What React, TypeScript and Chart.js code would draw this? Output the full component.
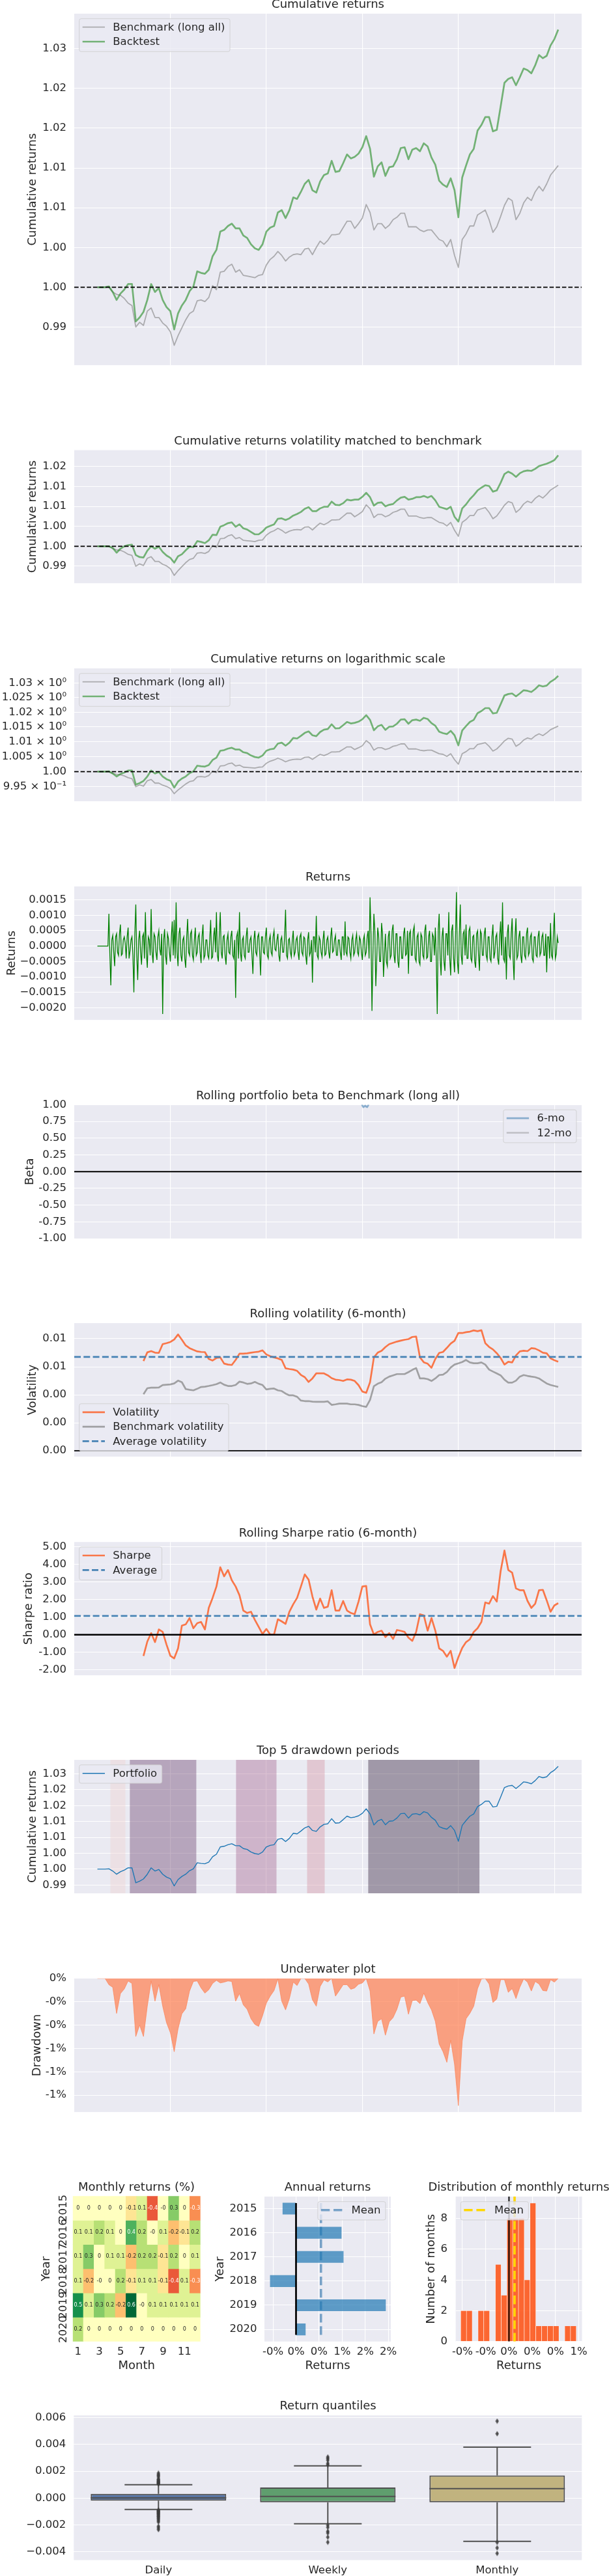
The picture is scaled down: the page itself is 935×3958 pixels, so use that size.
import React, { useEffect, useRef } from 'react';
import { Chart, registerables } from 'chart.js';

Chart.register(...registerables);

// ======================= DATA =======================
const yearTicks = [2016, 2017, 2018, 2019, 2020];

const cumDates = [
  2015.24, 2015.28, 2015.32, 2015.36, 2015.40, 2015.44, 2015.48, 2015.52, 2015.56, 2015.60,
  2015.64, 2015.68, 2015.72, 2015.76, 2015.80, 2015.84, 2015.88, 2015.92, 2015.96, 2016.00,
  2016.04, 2016.08, 2016.12, 2016.16, 2016.20, 2016.24, 2016.28, 2016.32, 2016.36, 2016.40,
  2016.44, 2016.48, 2016.52, 2016.56, 2016.60, 2016.64, 2016.68, 2016.72, 2016.76, 2016.80,
  2016.84, 2016.88, 2016.92, 2016.96, 2017.00, 2017.04, 2017.08, 2017.12, 2017.16, 2017.20,
  2017.24, 2017.28, 2017.32, 2017.36, 2017.40, 2017.44, 2017.48, 2017.52, 2017.56, 2017.60,
  2017.64, 2017.68, 2017.72, 2017.76, 2017.80, 2017.84, 2017.88, 2017.92, 2017.96, 2018.00,
  2018.04, 2018.08, 2018.12, 2018.16, 2018.20, 2018.24, 2018.28, 2018.32, 2018.36, 2018.40,
  2018.44, 2018.48, 2018.52, 2018.56, 2018.60, 2018.64, 2018.68, 2018.72, 2018.76, 2018.80,
  2018.84, 2018.88, 2018.92, 2018.96, 2019.00, 2019.04, 2019.08, 2019.12, 2019.16, 2019.20,
  2019.24, 2019.28, 2019.32, 2019.36, 2019.40, 2019.44, 2019.48, 2019.52, 2019.56, 2019.60,
  2019.64, 2019.68, 2019.72, 2019.76, 2019.80, 2019.84, 2019.88, 2019.92, 2019.96, 2020.00,
  2020.04,
];

const backtestCum = [
  1.0000, 1.0000, 1.0000, 1.0001, 0.9994, 0.9984, 0.9992, 0.9997, 1.0004, 1.0004,
  0.9957, 0.9962, 0.9969, 0.9984, 1.0004, 0.9994, 0.9999, 0.9984, 0.9975, 0.9970,
  0.9947, 0.9967, 0.9977, 0.9984, 0.9995, 1.0001, 1.0020, 1.0018, 1.0017, 1.0022,
  1.0039, 1.0047, 1.0070, 1.0072, 1.0077, 1.0080, 1.0074, 1.0074, 1.0065, 1.0062,
  1.0054, 1.0049, 1.0047, 1.0054, 1.0070, 1.0075, 1.0077, 1.0094, 1.0097, 1.0087,
  1.0097, 1.0113, 1.0111, 1.0120, 1.0130, 1.0135, 1.0122, 1.0119, 1.0133, 1.0141,
  1.0143, 1.0159, 1.0145, 1.0146, 1.0156, 1.0167, 1.0162, 1.0164, 1.0168, 1.0176,
  1.0190, 1.0174, 1.0139, 1.0152, 1.0157, 1.0140, 1.0151, 1.0152, 1.0161, 1.0175,
  1.0176, 1.0161, 1.0173, 1.0175, 1.0171, 1.0181, 1.0177, 1.0163, 1.0154, 1.0134,
  1.0129, 1.0126, 1.0137, 1.0122, 1.0088, 1.0138, 1.0153, 1.0167, 1.0174, 1.0197,
  1.0204, 1.0214, 1.0214, 1.0196, 1.0198, 1.0227, 1.0257, 1.0262, 1.0264, 1.0254,
  1.0264, 1.0275, 1.0273, 1.0269, 1.0279, 1.0292, 1.0288, 1.0291, 1.0304, 1.0312,
  1.0324,
];

const benchmarkCum = [
  1.0000, 1.0000, 1.0000, 1.0000, 0.9994, 0.9991, 0.9990, 0.9986, 0.9980, 0.9977,
  0.9950, 0.9956, 0.9952, 0.9970, 0.9974, 0.9962, 0.9962, 0.9955, 0.9951, 0.9944,
  0.9927, 0.9939, 0.9949, 0.9959, 0.9967, 0.9970, 0.9983, 0.9984, 0.9982, 0.9987,
  1.0002, 0.9997, 1.0019, 1.0020, 1.0026, 1.0029, 1.0019, 1.0022, 1.0015, 1.0014,
  1.0013, 1.0012, 1.0015, 1.0016, 1.0028, 1.0035, 1.0039, 1.0045, 1.0040, 1.0033,
  1.0038, 1.0041, 1.0042, 1.0041, 1.0048, 1.0049, 1.0041, 1.0050, 1.0058, 1.0054,
  1.0059, 1.0066, 1.0066, 1.0067, 1.0075, 1.0083, 1.0083, 1.0074, 1.0080, 1.0087,
  1.0104, 1.0094, 1.0072, 1.0080, 1.0080, 1.0074, 1.0078, 1.0085, 1.0088, 1.0093,
  1.0093, 1.0076, 1.0076, 1.0076, 1.0072, 1.0070, 1.0072, 1.0072, 1.0066, 1.0060,
  1.0058, 1.0051, 1.0060, 1.0040, 1.0025, 1.0060, 1.0067, 1.0077, 1.0077, 1.0091,
  1.0094, 1.0097, 1.0085, 1.0069, 1.0076, 1.0089, 1.0103, 1.0112, 1.0109, 1.0085,
  1.0093, 1.0106, 1.0113, 1.0109, 1.0120, 1.0127, 1.0121, 1.0130, 1.0141, 1.0147,
  1.0153,
];

const volMatchedCum = [
  1.0000, 1.0000, 1.0000, 1.0000, 0.9996, 0.9984, 0.9994, 1.0000, 1.0003, 1.0004,
  0.9978, 0.9973, 0.9972, 0.9989, 1.0000, 0.9994, 0.9999, 0.9986, 0.9977, 0.9971,
  0.9959, 0.9975, 0.9980, 0.9990, 0.9999, 0.9998, 1.0013, 1.0011, 1.0008, 1.0015,
  1.0029, 1.0028, 1.0049, 1.0053, 1.0058, 1.0060, 1.0049, 1.0055, 1.0045, 1.0042,
  1.0036, 1.0030, 1.0030, 1.0037, 1.0047, 1.0051, 1.0055, 1.0069, 1.0070, 1.0066,
  1.0070, 1.0077, 1.0081, 1.0086, 1.0094, 1.0098, 1.0088, 1.0088, 1.0095, 1.0099,
  1.0099, 1.0112, 1.0104, 1.0103, 1.0108, 1.0117, 1.0115, 1.0117, 1.0117, 1.0124,
  1.0134, 1.0123, 1.0102, 1.0109, 1.0110, 1.0100, 1.0104, 1.0106, 1.0115, 1.0122,
  1.0124, 1.0117, 1.0119, 1.0123, 1.0123, 1.0126, 1.0122, 1.0126, 1.0115, 1.0099,
  1.0096, 1.0093, 1.0099, 1.0074, 1.0062, 1.0095, 1.0105, 1.0118, 1.0128, 1.0140,
  1.0147, 1.0153, 1.0151, 1.0137, 1.0140, 1.0159, 1.0181, 1.0187, 1.0182, 1.0174,
  1.0183, 1.0188, 1.0190, 1.0189, 1.0194, 1.0201, 1.0204, 1.0207, 1.0211, 1.0216,
  1.0228,
];

const returnDates = [
  2015.24, 2015.25, 2015.26, 2015.27, 2015.28, 2015.29, 2015.30, 2015.31, 2015.32, 2015.33, 2015.34, 2015.35, 2015.36, 2015.37, 2015.38, 2015.39, 2015.40, 2015.41, 2015.42, 2015.43,
  2015.44, 2015.45, 2015.46, 2015.47, 2015.48, 2015.49, 2015.50, 2015.51, 2015.52, 2015.53, 2015.54, 2015.55, 2015.56, 2015.57, 2015.58, 2015.59, 2015.60, 2015.61, 2015.62, 2015.63,
  2015.64, 2015.65, 2015.66, 2015.67, 2015.68, 2015.69, 2015.70, 2015.71, 2015.72, 2015.73, 2015.74, 2015.75, 2015.76, 2015.77, 2015.78, 2015.79, 2015.80, 2015.81, 2015.82, 2015.83,
  2015.84, 2015.85, 2015.86, 2015.87, 2015.88, 2015.89, 2015.90, 2015.91, 2015.92, 2015.93, 2015.94, 2015.95, 2015.96, 2015.97, 2015.98, 2015.99, 2016.00, 2016.01, 2016.02, 2016.03,
  2016.04, 2016.05, 2016.06, 2016.07, 2016.08, 2016.09, 2016.10, 2016.11, 2016.12, 2016.13, 2016.14, 2016.15, 2016.16, 2016.17, 2016.18, 2016.19, 2016.20, 2016.21, 2016.22, 2016.23,
  2016.24, 2016.25, 2016.26, 2016.27, 2016.28, 2016.29, 2016.30, 2016.31, 2016.32, 2016.33, 2016.34, 2016.35, 2016.36, 2016.37, 2016.38, 2016.39, 2016.40, 2016.41, 2016.42, 2016.43,
  2016.44, 2016.45, 2016.46, 2016.47, 2016.48, 2016.49, 2016.50, 2016.51, 2016.52, 2016.53, 2016.54, 2016.55, 2016.56, 2016.57, 2016.58, 2016.59, 2016.60, 2016.61, 2016.62, 2016.63,
  2016.64, 2016.65, 2016.66, 2016.67, 2016.68, 2016.69, 2016.70, 2016.71, 2016.72, 2016.73, 2016.74, 2016.75, 2016.76, 2016.77, 2016.78, 2016.79, 2016.80, 2016.81, 2016.82, 2016.83,
  2016.84, 2016.85, 2016.86, 2016.87, 2016.88, 2016.89, 2016.90, 2016.91, 2016.92, 2016.93, 2016.94, 2016.95, 2016.96, 2016.97, 2016.98, 2016.99, 2017.00, 2017.01, 2017.02, 2017.03,
  2017.04, 2017.05, 2017.06, 2017.07, 2017.08, 2017.09, 2017.10, 2017.11, 2017.12, 2017.13, 2017.14, 2017.15, 2017.16, 2017.17, 2017.18, 2017.19, 2017.20, 2017.21, 2017.22, 2017.23,
  2017.24, 2017.25, 2017.26, 2017.27, 2017.28, 2017.29, 2017.30, 2017.31, 2017.32, 2017.33, 2017.34, 2017.35, 2017.36, 2017.37, 2017.38, 2017.39, 2017.40, 2017.41, 2017.42, 2017.43,
  2017.44, 2017.45, 2017.46, 2017.47, 2017.48, 2017.49, 2017.50, 2017.51, 2017.52, 2017.53, 2017.54, 2017.55, 2017.56, 2017.57, 2017.58, 2017.59, 2017.60, 2017.61, 2017.62, 2017.63,
  2017.64, 2017.65, 2017.66, 2017.67, 2017.68, 2017.69, 2017.70, 2017.71, 2017.72, 2017.73, 2017.74, 2017.75, 2017.76, 2017.77, 2017.78, 2017.79, 2017.80, 2017.81, 2017.82, 2017.83,
  2017.84, 2017.85, 2017.86, 2017.87, 2017.88, 2017.89, 2017.90, 2017.91, 2017.92, 2017.93, 2017.94, 2017.95, 2017.96, 2017.97, 2017.98, 2017.99, 2018.00, 2018.01, 2018.02, 2018.03,
  2018.04, 2018.05, 2018.06, 2018.07, 2018.08, 2018.09, 2018.10, 2018.11, 2018.12, 2018.13, 2018.14, 2018.15, 2018.16, 2018.17, 2018.18, 2018.19, 2018.20, 2018.21, 2018.22, 2018.23,
  2018.24, 2018.25, 2018.26, 2018.27, 2018.28, 2018.29, 2018.30, 2018.31, 2018.32, 2018.33, 2018.34, 2018.35, 2018.36, 2018.37, 2018.38, 2018.39, 2018.40, 2018.41, 2018.42, 2018.43,
  2018.44, 2018.45, 2018.46, 2018.47, 2018.48, 2018.49, 2018.50, 2018.51, 2018.52, 2018.53, 2018.54, 2018.55, 2018.56, 2018.57, 2018.58, 2018.59, 2018.60, 2018.61, 2018.62, 2018.63,
  2018.64, 2018.65, 2018.66, 2018.67, 2018.68, 2018.69, 2018.70, 2018.71, 2018.72, 2018.73, 2018.74, 2018.75, 2018.76, 2018.77, 2018.78, 2018.79, 2018.80, 2018.81, 2018.82, 2018.83,
  2018.84, 2018.85, 2018.86, 2018.87, 2018.88, 2018.89, 2018.90, 2018.91, 2018.92, 2018.93, 2018.94, 2018.95, 2018.96, 2018.97, 2018.98, 2018.99, 2019.00, 2019.01, 2019.02, 2019.03,
  2019.04, 2019.05, 2019.06, 2019.07, 2019.08, 2019.09, 2019.10, 2019.11, 2019.12, 2019.13, 2019.14, 2019.15, 2019.16, 2019.17, 2019.18, 2019.19, 2019.20, 2019.21, 2019.22, 2019.23,
  2019.24, 2019.25, 2019.26, 2019.27, 2019.28, 2019.29, 2019.30, 2019.31, 2019.32, 2019.33, 2019.34, 2019.35, 2019.36, 2019.37, 2019.38, 2019.39, 2019.40, 2019.41, 2019.42, 2019.43,
  2019.44, 2019.45, 2019.46, 2019.47, 2019.48, 2019.49, 2019.50, 2019.51, 2019.52, 2019.53, 2019.54, 2019.55, 2019.56, 2019.57, 2019.58, 2019.59, 2019.60, 2019.61, 2019.62, 2019.63,
  2019.64, 2019.65, 2019.66, 2019.67, 2019.68, 2019.69, 2019.70, 2019.71, 2019.72, 2019.73, 2019.74, 2019.75, 2019.76, 2019.77, 2019.78, 2019.79, 2019.80, 2019.81, 2019.82, 2019.83,
  2019.84, 2019.85, 2019.86, 2019.87, 2019.88, 2019.89, 2019.90, 2019.91, 2019.92, 2019.93, 2019.94, 2019.95, 2019.96, 2019.97, 2019.98, 2019.99, 2020.00, 2020.01, 2020.02, 2020.03,
  2020.04,
];

const dailyReturns = [
  0, 0, 0, 0, 0, 0, 0, 0, 0, 0, 0, 0, 0.00105, -0.0003, -0.00127, 0.0002, 0.00035, -0.0002, -0.00065, 0.0003,
  0.0004, -0.0002, -0.0003, 0.0004, 0.0007, -0.0003, -0.00025, 0.0002, 0.0003, 0.0001, -0.0004, 0.0003, 0.0006, -0.0004, -0.00015, 0.0002, 0.0003, -0.0003, -0.0015, 0.0004,
  0.00135, -0.0003, -0.0011, 0.0002, 0.0005, -0.0002, -0.0006, 0.0003, 0.0004, -0.0004, 0.0011, -0.0002, -0.0007, 0.0003, 0.0002, -0.0003, 0.0012, -0.0002, -0.00055, 0.0004,
  0.0003, -0.0002, -0.00045, 0.0003, 0.0005, -0.0001, -0.0003, 0.0004, -0.0022, 0.0002, 0.00055, -0.0003, -0.0006, 0.0004, 0.00025, -0.0002, -0.0005, 0.0003, 0.0008, -0.0003,
  0.00085, -0.0004, 0.00142, -0.0002, -0.00065, 0.0004, 0.0006, -0.0003, -0.0005, 0.0002, 0.0003, -0.0004, -0.0007, 0.0003, 0.00088, -0.0002, -0.0003, 0.0004, 0.0005, -0.0003,
  -0.00045, 0.0002, 0.0006, -0.0003, -0.0002, 0.0003, 0.0004, -0.0002, -0.00055, 0.0003, 0.0007, -0.0004, -0.0003, 0.0002, 0.0002, -0.0003, -0.0004, 0.0002, 0.00085, -0.0004,
  -0.00035, 0.0003, 0.0006, -0.0002, 0.0011, -0.0003, -0.0005, 0.0004, 0.0011, -0.0002, -0.0004, 0.0003, 0.00035, -0.0003, -0.0006, 0.0002, 0.0004, -0.0002, -0.00025, 0.0003,
  0.0005, -0.0003, -0.0004, 0.0002, -0.00168, 0.0003, 0.00045, -0.0004, 0.0011, -0.0002, -0.0005, 0.0002, 0.0003, -0.0003, -0.0004, 0.0003, 0.0006, -0.0002, -0.0002, 0.0002,
  0.0003, -0.0003, -0.0009, 0.0002, 0.0005, -0.0002, -0.0003, 0.0003, 0.0004, -0.0002, -0.00095, 0.0003, 0.0003, -0.0002, -0.00025, 0.0003, 0.0006, -0.0003, -0.0004, 0.0002,
  0.00035, -0.0002, -0.0003, 0.0003, 0.0005, -0.0001, -0.00015, 0.0002, 0.0004, -0.0003, -0.0005, 0.0002, 0.0003, -0.0002, -0.0002, 0.0003, 0.00118, -0.0003, -0.0004, 0.0002,
  0.00025, -0.0002, -0.00035, 0.0002, 0.0005, -0.0003, -0.0002, 0.0002, 0.0003, -0.0002, -0.00045, 0.0003, 0.0004, -0.0002, -0.0003, 0.0003, 0.00025, -0.0003, -0.0006, 0.0002,
  0.00045, -0.0003, -0.0002, 0.0002, -0.00118, 0.0003, 0.0003, -0.0002, 0.00098, -0.0003, -0.0004, 0.0003, 0.0002, -0.0002, -0.00035, 0.0002, 0.0005, -0.0003, -0.00025, 0.0002,
  0.0003, -0.0002, -0.0004, 0.0003, 0.0006, -0.0002, -0.00015, 0.0002, 0.00035, -0.0003, -0.0003, 0.0002, 0.0002, -0.0002, -0.00045, 0.0003, 0.0003, -0.0003, 0.0008, -0.0002,
  -0.0003, 0.0003, 0.00025, -0.0002, -0.0004, 0.0002, 0.00035, -0.0003, -0.0002, 0.0002, 0.0004, -0.0002, -0.0003, 0.0003, 0.0002, -0.0002, -0.00045, 0.0002, 0.00035, -0.0003,
  -0.0002, 0.0003, 0.0005, -0.0004, 0.00158, 0.0004, -0.0021, -0.0003, 0.00105, 0.0005, -0.0013, -0.0004, 0.0006, 0.0003, -0.0005, -0.0005, 0.00075, 0.0004, -0.001, -0.0003,
  0.0004, -0.0005, -0.00065, 0.0003, 0.0005, -0.0004, -0.0003, 0.0005, 0.0007, -0.0003, -0.00055, 0.0004, 0.0004, -0.0005, -0.0007, 0.0003, 0.0003, -0.0004, -0.0004, 0.0004,
  0.0006, -0.0003, -0.00025, 0.0005, -0.0009, 0.0004, 0.0005, -0.0003, -0.0003, 0.0005, 0.00065, -0.0004, -0.0005, 0.0003, 0.0004, -0.0005, -0.0006, 0.0004, 0.0003, -0.0003,
  -0.0004, 0.0005, 0.0007, -0.0004, -0.00035, 0.0003, 0.0005, -0.0005, -0.0005, 0.0004, 0.0003, -0.0003, 0.0006, -0.0004, -0.0022, 0.0005, 0.00105, -0.0004, -0.00095, 0.0003,
  0.0006, -0.0005, -0.0008, 0.0004, 0.0004, -0.0003, 0.0011, -0.0004, -0.00095, 0.0005, 0.0007, -0.0004, -0.00085, 0.0003, 0.00175, -0.0005, -0.0009, 0.0004, 0.00135, -0.0003,
  -0.0006, 0.0004, 0.0005, -0.0003, 0.0007, -0.0004, -0.0004, 0.0005, 0.0006, -0.0004, -0.0005, 0.0003, 0.00035, -0.0005, -0.0007, 0.0004, 0.0005, -0.0003, -0.0008, 0.0005,
  0.0004, -0.0003, -0.0003, 0.0004, 0.0006, -0.0003, -0.00045, 0.0003, 0.0003, -0.0004, -0.0005, 0.0003, 0.0007, -0.0004, -0.0002, 0.0003, 0.0004, -0.0004, -0.0006, 0.0003,
  0.0008, -0.0003, 0.00142, -0.0004, -0.0005, 0.0003, -0.00108, 0.0004, 0.0007, -0.0003, -0.0004, 0.0004, 0.0009, -0.0004, -0.0011, 0.0003, 0.0009, -0.0004, -0.0003, 0.0003,
  0.0005, -0.0003, -0.00055, 0.0003, 0.0003, -0.0003, -0.0004, 0.0004, 0.0006, -0.0003, -0.0002, 0.0003, 0.0004, -0.0004, -0.0005, 0.0003, 0.0003, -0.0003, -0.00035, 0.0003,
  0.0005, -0.0003, -0.0002, 0.0003, 0.0004, -0.0003, -0.0003, 0.0004, -0.00085, 0.0003, 0.0003, -0.0004, 0.00075, -0.0003, -0.0004, 0.0004, 0.00108, -0.0004, -0.00025, 0.0003,
  0.0001,
];

const betaDates = [2017.99, 2018.00, 2018.01, 2018.02, 2018.03, 2018.04, 2018.05, 2018.06, 2018.07];
const beta6mo = [1.04, 0.99, 0.965, 0.975, 0.99, 0.97, 0.965, 0.99, 1.04];

const rollDates = cumDates.slice(12);

const rollingVol = [
  0.00641, 0.00703, 0.00712, 0.00701, 0.00699, 0.00762, 0.00769, 0.00777, 0.00795, 0.00831,
  0.00793, 0.00753, 0.00733, 0.00721, 0.00710, 0.00706, 0.00705, 0.00656, 0.00645, 0.00663,
  0.00667, 0.00623, 0.00616, 0.00613, 0.00649, 0.00694, 0.00694, 0.00696, 0.00701, 0.00705,
  0.00708, 0.00717, 0.00688, 0.00676, 0.00667, 0.00660, 0.00649, 0.00589, 0.00584, 0.00580,
  0.00571, 0.00542, 0.00526, 0.00492, 0.00517, 0.00553, 0.00553, 0.00553, 0.00539, 0.00519,
  0.00508, 0.00505, 0.00499, 0.00510, 0.00508, 0.00499, 0.00469, 0.00423, 0.00414, 0.00490,
  0.00667, 0.00701, 0.00714, 0.00741, 0.00762, 0.00771, 0.00780, 0.00787, 0.00793, 0.00798,
  0.00813, 0.00816, 0.00667, 0.00632, 0.00622, 0.00593, 0.00656, 0.00699, 0.00706, 0.00735,
  0.00766, 0.00786, 0.00841, 0.00841, 0.00847, 0.00851, 0.00860, 0.00854, 0.00861, 0.00769,
  0.00742, 0.00724, 0.00697, 0.00663, 0.00616, 0.00636, 0.00631, 0.00681, 0.00710, 0.00715,
  0.00712, 0.00733, 0.00730, 0.00717, 0.00701, 0.00696, 0.00661, 0.00647, 0.00636,
];

const benchmarkVol = [
  0.00404, 0.00447, 0.00451, 0.00451, 0.00452, 0.00470, 0.00472, 0.00474, 0.00481, 0.00501,
  0.00490, 0.00441, 0.00436, 0.00432, 0.00443, 0.00456, 0.00458, 0.00463, 0.00469, 0.00476,
  0.00488, 0.00472, 0.00463, 0.00463, 0.00470, 0.00494, 0.00488, 0.00478, 0.00481, 0.00492,
  0.00479, 0.00470, 0.00438, 0.00443, 0.00445, 0.00432, 0.00427, 0.00409, 0.00396, 0.00396,
  0.00386, 0.00359, 0.00355, 0.00355, 0.00351, 0.00350, 0.00350, 0.00350, 0.00353, 0.00328,
  0.00332, 0.00337, 0.00337, 0.00337, 0.00332, 0.00332, 0.00328, 0.00319, 0.00314, 0.00364,
  0.00461, 0.00479, 0.00490, 0.00515, 0.00530, 0.00539, 0.00548, 0.00548, 0.00548, 0.00562,
  0.00578, 0.00591, 0.00517, 0.00517, 0.00512, 0.00499, 0.00517, 0.00541, 0.00544, 0.00562,
  0.00595, 0.00616, 0.00625, 0.00634, 0.00649, 0.00631, 0.00625, 0.00625, 0.00631, 0.00616,
  0.00580, 0.00566, 0.00553, 0.00539, 0.00508, 0.00487, 0.00487, 0.00501, 0.00530, 0.00541,
  0.00535, 0.00530, 0.00526, 0.00517, 0.00499, 0.00481, 0.00470, 0.00463, 0.00456,
];
const averageVol = 0.006707;

const rollingSharpe = [
  -1.21, -0.39, 0.09, -0.42, 0.30, 0.16, -0.56, -1.2, -1.35, -0.78,
  0.52, 0.59, 0.95, 0.37, 0.66, 0.73, 0.30, 1.53, 2.10, 2.75,
  3.85, 3.33, 3.69, 3.11, 2.75, 2.25, 1.38, 1.24, 1.31, 0.85,
  0.45, 0.04, 0.33, 0.01, 0.01, 0.88, 0.76, 0.62, 1.31, 1.74,
  2.10, 2.75, 3.44, 3.14, 2.18, 1.43, 2.06, 1.53, 1.60, 2.54,
  1.38, 1.38, 1.92, 1.38, 1.24, 1.17, 1.89, 2.75, 2.78, 0.59,
  0.01, 0.16, 0.23, -0.13, 0.09, -0.24, 0.27, 0.22, 0.16, -0.17,
  -0.35, 0.16, 1.17, 1.10, 0.23, 0.95, 0.23, -0.78, -0.92, -1.25,
  -0.92, -1.9, -1.28, -0.75, -0.42, -0.26, 0.16, 0.37, 0.73, 1.84,
  1.77, 2.20, 1.89, 3.62, 4.80, 3.69, 3.54, 2.64, 2.54, 2.54,
  1.93, 1.53, 1.77, 2.54, 2.56, 1.96, 1.31, 1.67, 1.80,
];
const averageSharpe = 1.07;

const drawdownStarts = [2015.374, 2015.577, 2016.683, 2017.423, 2018.060];
const drawdownEnds = [2015.533, 2016.272, 2017.107, 2017.609, 2019.221];

const underwater = [
  0, 0, 0, -0.00054, -0.00076, -0.0030, -0.0013, -0.00091, -0.00022, -0.00043,
  -0.00498, -0.0040, -0.00498, -0.00238, -0.00022, -0.00195, -0.00054, -0.00238, -0.00379, -0.00465,
  -0.00628, -0.00433, -0.00303, -0.0026, -0.00108, -0.00026, -0.00022, -0.00082, -0.00126, -0.00097,
  -0.00043, -0.00017, -0.00039, -0.00032, -0.00022, -0.00026, -0.00195, -0.0013, -0.00227, -0.00264,
  -0.00346, -0.00394, -0.00411, -0.0032, -0.00212, -0.00152, -0.00104, -0.00004, -0.00195, -0.0027,
  -0.00173, -0.00032, -0.00061, 0, 0, -0.00048, -0.00184, -0.00238, -0.00069, -0.00013,
  -0.0003, 0, -0.00152, -0.00104, -0.00054, -0.00054, -0.00093, -0.00082, -0.0005, -0.00039,
  0, -0.00108, -0.00476, -0.00368, -0.00346, -0.00487, -0.00372, -0.00336, -0.00264, -0.0016,
  -0.00152, -0.00307, -0.0019, -0.00186, -0.00216, -0.00126, -0.00206, -0.0027, -0.00368, -0.00563,
  -0.00628, -0.00719, -0.0053, -0.00736, -0.0109, -0.00537, -0.00346, -0.00299, -0.00238, -0.00087,
  -0.00004, 0, -0.00048, -0.00206, -0.00177, -0.00011, -0.00011, -0.00119, -0.00087, -0.00173,
  -0.00076, -0.00004, -0.00032, -0.00108, -0.00026, -0.00048, -0.00104, -0.00108, -0.00011, -0.00032,
  0,
];

const heatYears = ['2015', '2016', '2017', '2018', '2019', '2020'];
const heatMonths = ['1', '2', '3', '4', '5', '6', '7', '8', '9', '10', '11', '12'];
const monthly2015 = [0, 0, 0, 0, 0, -0.1, 0.1, -0.4, -0, 0.3, 0, -0.3];
const monthly2016 = [0.1, 0.1, 0.2, 0.1, 0, 0.4, 0.2, -0, 0.1, -0.2, -0.1, 0.2];
const monthly2017 = [0.1, 0.3, 0, 0.1, 0.1, -0.2, 0.2, 0.2, -0.1, 0.2, 0, 0.1];
const monthly2018 = [0.1, -0.2, -0, 0, 0.2, -0.1, 0.1, 0.1, -0.1, -0.4, 0.1, -0.3];
const monthly2019 = [0.5, 0.1, 0.3, 0.2, -0.2, 0.6, -0, 0.1, 0.1, 0.1, 0.1, 0.1];
const monthly2020 = [0.2, 0, 0, 0, 0, 0, 0, 0, 0, 0, 0, 0];
const heatRows = [monthly2015, monthly2016, monthly2017, monthly2018, monthly2019, monthly2020];

const annualYears = ['2015', '2016', '2017', '2018', '2019', '2020'];
const annualReturns = [-0.00287, 0.00982, 0.01025, -0.00559, 0.01941, 0.00203];
const annualMean = 0.0054;

const histBinCenters = [
  -0.003901, -0.003404, -0.002908, -0.002411, -0.001915, -0.001418, -0.000921, -0.000425, 0.000072, 0.000568,
  0.001065, 0.001562, 0.002058, 0.002555, 0.003051, 0.003548, 0.004045, 0.004541, 0.005038, 0.005534,
];
const histCounts = [2, 2, 0, 2, 2, 0, 5, 3, 8, 8, 8, 4, 9, 1, 1, 1, 1, 0, 1, 1];
const monthlyMean = 0.00048;

const quantileLabels = ['Daily', 'Weekly', 'Monthly'];
const boxQ1 = [-0.000194, -0.00031, -0.00031];
const boxMedian = [0.00002, 0.000126, 0.00071];
const boxQ3 = [0.00032, 0.00079, 0.001685];
const whiskerLow = [-0.000845, -0.00191, -0.00322];
const whiskerHigh = [0.001, 0.00241, 0.0038];
const dailyOutliers = [
  0.00106, 0.0011, 0.00114, 0.00118, 0.00122, 0.00127, 0.00132, 0.00138, 0.00142, 0.00158, 0.00168, 0.00175, 0.00186,
  -0.0009, -0.00094, -0.00098, -0.00103, -0.00108, -0.00113, -0.00118, -0.00124, -0.0013, -0.00136, -0.00142, -0.0015,
  -0.00158, -0.00168, -0.00178, -0.0021, -0.00222, -0.00235,
];
const weeklyOutliers = [0.00248, 0.00259, 0.00283, 0.00296, 0.00307, -0.00202, -0.00218, -0.00248, -0.0026, -0.00291, -0.00329];
const monthlyOutliers = [0.0048, 0.00574, -0.0033, -0.00371, -0.00412];

// tick values and labels
const cumTicks = [0.995, 1.0, 1.005, 1.01, 1.015, 1.02, 1.025, 1.03];
const cumTickLabels = ['0.99', '1.00', '1.00', '1.01', '1.01', '1.02', '1.02', '1.03'];
const volMatchTicks = [0.995, 1.0, 1.005, 1.01, 1.015, 1.02];
const volMatchTickLabels = ['0.99', '1.00', '1.00', '1.01', '1.01', '1.02'];
const logTickLabels = ['9.95 × 10⁻¹', '1.00', '1.005 × 10⁰', '1.01 × 10⁰', '1.015 × 10⁰', '1.02 × 10⁰', '1.025 × 10⁰', '1.03 × 10⁰'];
const returnTicks = [-0.002, -0.0015, -0.001, -0.0005, 0, 0.0005, 0.001, 0.0015];
const returnTickLabels = ['−0.0020', '−0.0015', '−0.0010', '−0.0005', '0.0000', '0.0005', '0.0010', '0.0015'];
const betaTicks = [-1, -0.75, -0.5, -0.25, 0, 0.25, 0.5, 0.75, 1];
const betaTickLabels = ['-1.00', '-0.75', '-0.50', '-0.25', '0.00', '0.25', '0.50', '0.75', '1.00'];
const volTicks = [0, 0.002, 0.004, 0.006, 0.008];
const volTickLabels = ['0.00', '0.00', '0.00', '0.01', '0.01'];
const sharpeTicks = [-2, -1, 0, 1, 2, 3, 4, 5];
const sharpeTickLabels = ['-2.00', '-1.00', '0.00', '1.00', '2.00', '3.00', '4.00', '5.00'];
const uwTicks = [-0.01, -0.008, -0.006, -0.004, -0.002, 0];
const uwTickLabels = ['-1%', '-1%', '-1%', '-0%', '-0%', '0%'];
const annualTicks = [-0.005, 0, 0.005, 0.01, 0.015, 0.02];
const annualTickLabels = ['-0%', '0%', '0%', '1%', '2%', '2%'];
const histTicks = [-0.004, -0.002, 0, 0.002, 0.004, 0.006];
const histTickLabels = ['-0%', '-0%', '0%', '0%', '0%', '1%'];
const countTicks = [0, 2, 4, 6, 8];
const countTickLabels = ['0', '2', '4', '6', '8'];
const quantTicks = [-0.004, -0.002, 0, 0.002, 0.004, 0.006];
const quantTickLabels = ['−0.004', '−0.002', '0.000', '0.002', '0.004', '0.006'];
const quantIndexTicks = [0, 1, 2];

// ======================= STYLE / LAYOUT =======================
const FONT = "'DejaVu Sans', 'Liberation Sans', Arial, sans-serif";
const TICK = 16.5;
const LABEL = 18;
const TEXT = '#262626';
const BG = '#EAEAF2';
const GRID = '#ffffff';
const X_MIN = 2014.999;
const X_MAX = 2020.284;

Chart.defaults.font.family = FONT;
Chart.defaults.color = TEXT;

interface Frame { L: number; W: number; pl: number; pr: number; pt: number; pb: number; bottom?: number; }
interface Geom { T: number; H: number; titlePadBottom: number; yAxisW: number; xAxisH: number; padRight: number; L: number; plotH: number; }

const wide = (pt: number, pb: number): Frame => ({ L: 0, W: 1007, pl: 114, pr: 893, pt, pb });
const FR: Record<string, Frame> = {
  cum: wide(21, 579),
  volm: wide(691.6, 913.4),
  log: wide(1027, 1249),
  ret: wide(1362, 1584.7),
  beta: wide(1697.5, 1920.6),
  vol: wide(2033, 2255.7),
  sharpe: wide(2369.3, 2591.5),
  dd: wide(2704, 2926.6),
  uw: wide(3039.8, 3262.5),
  heat: { L: 40, W: 339, pl: 111.7, pr: 307.7, pt: 3374.3, pb: 3597.7, bottom: 3650 },
  annual: { L: 320, W: 366, pl: 406, pr: 600, pt: 3375, pb: 3597.7, bottom: 3650 },
  hist: { L: 640, W: 313, pl: 699.6, pr: 893.5, pt: 3375, pb: 3597.7, bottom: 3650 },
  box: { L: 0, W: 1007, pl: 113.3, pr: 893.3, pt: 3711.2, pb: 3933.5, bottom: 3958 },
};
const YT = { cum: 50.7, volm: 50.7, ret: 17.9, beta: 46.5, vol: 50.7, sharpe: 44.7, dd: 50.7, uw: 57.8, heat: 71.7, annual: 338.5, hist: 662.6 };

function geom(f: Frame): Geom {
  const T = Math.round(f.pt - 23.8);
  const bottom = f.bottom !== undefined ? f.bottom : Math.ceil(f.pb + 4);
  return {
    T, H: bottom - T, titlePadBottom: f.pt - T - 21.6, yAxisW: f.pl - f.L, xAxisH: bottom - f.pb,
    padRight: f.L + f.W - f.pr, L: f.L, plotH: f.pb - f.pt,
  };
}

// ======================= PLUGINS =======================
const bgPlugin = {
  id: 'axesBg',
  beforeDraw(chart: any) {
    const a = chart.chartArea;
    if (!a) return;
    const c = chart.ctx;
    c.save();
    c.fillStyle = BG;
    c.fillRect(a.left, a.top, a.right - a.left, a.bottom - a.top);
    c.restore();
  },
};

interface LegItem { label: string; color: string; width: number; dash?: number[]; }
function boxLegend(items: LegItem[], corner: 'tl' | 'tr' | 'bl') {
  return {
    id: 'boxLegend',
    afterDraw(chart: any) {
      const ctx = chart.ctx;
      const ca = chart.chartArea;
      ctx.save();
      ctx.font = `${TICK}px ${FONT}`;
      const tw = Math.max(...items.map((it) => ctx.measureText(it.label).width));
      const w = 5 + 34.3 + 12.3 + tw + 7.5;
      const h = items.length * 22.3 + 6;
      const x = corner === 'tr' ? ca.right - 8 - w : ca.left + 7.7;
      const y = corner === 'bl' ? ca.bottom - 8.4 - h : ca.top + 7.7;
      ctx.beginPath();
      if (ctx.roundRect) ctx.roundRect(x, y, w, h, 3); else ctx.rect(x, y, w, h);
      ctx.fillStyle = 'rgba(234,234,242,0.8)';
      ctx.fill();
      ctx.strokeStyle = 'rgba(204,204,204,0.8)';
      ctx.lineWidth = 1;
      ctx.stroke();
      items.forEach((it, i) => {
        const cy = y + 13 + i * 22.3;
        ctx.beginPath();
        ctx.setLineDash(it.dash || []);
        ctx.strokeStyle = it.color;
        ctx.lineWidth = it.width;
        ctx.moveTo(x + 5, cy);
        ctx.lineTo(x + 39.3, cy);
        ctx.stroke();
        ctx.setLineDash([]);
        ctx.fillStyle = TEXT;
        ctx.textAlign = 'left';
        ctx.textBaseline = 'middle';
        ctx.fillText(it.label, x + 51.6, cy + 1);
      });
      ctx.restore();
    },
  };
}

// RdYlGn colormap (matplotlib anchors)
const RDYLGN = [
  [165, 0, 38], [215, 48, 39], [244, 109, 67], [253, 174, 97], [254, 224, 139], [255, 255, 191],
  [217, 239, 139], [166, 217, 106], [102, 189, 99], [26, 152, 80], [0, 104, 55],
];
function rdylgn(t: number) {
  const tt = Math.max(0, Math.min(1, t)) * 10;
  const i = Math.min(9, Math.floor(tt));
  const f = tt - i;
  const a = RDYLGN[i], b = RDYLGN[i + 1];
  return a.map((c, j) => c + (b[j] - c) * f);
}
const heatRange = Math.max(...heatRows.flat().map((v) => Math.abs(v)));
const heatColor = (v: number) => rdylgn((v + heatRange) / (2 * heatRange));
const rgb = (c: number[]) => `rgb(${Math.round(c[0])},${Math.round(c[1])},${Math.round(c[2])})`;
function relLum(c: number[]) {
  const f = (x: number) => { const s = x / 255; return s <= 0.03928 ? s / 12.92 : Math.pow((s + 0.055) / 1.055, 2.4); };
  return 0.2126 * f(c[0]) + 0.7152 * f(c[1]) + 0.0722 * f(c[2]);
}
const fmtHeat = (v: number) => (v === 0 ? (Object.is(v, -0) ? '-0' : '0') : String(v));

const heatAnnot = {
  id: 'heatAnnot',
  afterDatasetsDraw(chart: any) {
    const { ctx } = chart;
    const xs = chart.scales.x, ys = chart.scales.y;
    ctx.save();
    ctx.font = `8px ${FONT}`;
    ctx.textAlign = 'center';
    ctx.textBaseline = 'middle';
    heatRows.forEach((row, i) => {
      row.forEach((v, j) => {
        ctx.fillStyle = relLum(heatColor(v)) < 0.408 ? '#ffffff' : TEXT;
        ctx.fillText(fmtHeat(v), xs.getPixelForValue(j), ys.getPixelForValue(i + 0.5));
      });
    });
    ctx.restore();
  },
};
const heatYearLabels = {
  id: 'heatYearLabels',
  afterDraw(chart: any) {
    const { ctx, chartArea } = chart;
    const ys = chart.scales.y;
    ctx.save();
    ctx.font = `${TICK}px ${FONT}`;
    ctx.fillStyle = TEXT;
    ctx.textAlign = 'center';
    ctx.textBaseline = 'alphabetic';
    heatYears.forEach((yr, i) => {
      ctx.save();
      ctx.translate(chartArea.left - 10, ys.getPixelForValue(i + 0.5));
      ctx.rotate(-Math.PI / 2);
      ctx.fillText(yr, 0, 0);
      ctx.restore();
    });
    ctx.restore();
  },
};

// ======================= HELPERS =======================
function baseOptions(g: Geom, title: string, scales: any, extra: any = {}) {
  return {
    animation: false,
    responsive: true,
    maintainAspectRatio: false,
    events: [],
    layout: { padding: 0, autoPadding: false },
    plugins: {
      legend: { display: false },
      tooltip: { enabled: false },
      title: {
        display: true, text: title, color: TEXT,
        font: { family: FONT, size: LABEL, weight: 'normal', lineHeight: 1.2 },
        padding: { top: 0, bottom: g.titlePadBottom },
      },
    },
    scales,
    ...extra,
  };
}

const padR = (g: Geom) => ({
  type: 'linear', position: 'right', display: true,
  ticks: { display: false }, grid: { display: false, drawTicks: false }, border: { display: false },
  afterFit: (s: any) => { s.width = g.padRight; },
});

function ySc(g: Geom, o: any) {
  return {
    type: o.type || 'linear', position: 'left', min: o.min, max: o.max,
    afterBuildTicks: (s: any) => { s.ticks = o.ticks.map((v: number) => ({ value: v })); },
    afterFit: (s: any) => { s.width = g.yAxisW; },
    ticks: {
      autoSkip: false, color: TEXT, font: { family: FONT, size: TICK }, padding: o.pad !== undefined ? o.pad : 12,
      callback: (_v: any, i: number) => o.labels[i],
    },
    grid: { color: GRID, lineWidth: 1.1, drawTicks: false, offset: false },
    border: { display: false },
    title: o.title
      ? { display: true, text: o.title, color: TEXT, font: { family: FONT, size: LABEL }, padding: { top: o.titleX - g.L - 10.8, bottom: 0 } }
      : { display: false },
  };
}

function xTime(g: Geom) {
  return {
    type: 'linear', position: 'bottom', min: X_MIN, max: X_MAX,
    afterBuildTicks: (s: any) => { s.ticks = yearTicks.map((v) => ({ value: v })); },
    afterFit: (s: any) => { s.height = g.xAxisH; },
    ticks: { display: false },
    grid: { color: GRID, lineWidth: 1.1, drawTicks: false },
    border: { display: false },
  };
}

function xLin(g: Geom, o: any) {
  return {
    type: 'linear', position: 'bottom', min: o.min, max: o.max, offset: false,
    afterBuildTicks: (s: any) => { s.ticks = o.ticks.map((v: number) => ({ value: v })); },
    afterFit: (s: any) => { s.height = g.xAxisH; },
    ticks: {
      autoSkip: false, maxRotation: 0, minRotation: 0, color: TEXT, font: { family: FONT, size: TICK }, padding: o.pad !== undefined ? o.pad : 6.3,
      callback: (_v: any, i: number) => o.labels[i],
    },
    grid: { display: o.grid !== false, color: GRID, lineWidth: 1.1, drawTicks: false, offset: false },
    border: { display: false },
    title: o.title
      ? { display: true, text: o.title, color: TEXT, font: { family: FONT, size: LABEL }, padding: { top: 0, bottom: 4.2 } }
      : { display: false },
  };
}

function line(xs: number[], ys: (number | null)[], color: string, width: number, order: number, extra: any = {}) {
  return {
    type: 'line',
    data: xs.map((x, i) => ({ x, y: ys[i] })),
    borderColor: color, borderWidth: width, pointRadius: 0, tension: 0, fill: false,
    borderJoinStyle: 'round', spanGaps: false, order,
    ...extra,
  };
}
const hline = (y: number, color: string, width: number, dash: number[], order: number) =>
  line([X_MIN, X_MAX], [y, y], color, width, order, { borderDash: dash });
const vline = (x: number, color: string, width: number, dash: number[], order: number) => ({
  type: 'line', indexAxis: 'x', xAxisID: 'x', yAxisID: 'yl', data: [{ x, y: 0 }, { x, y: 1 }],
  borderColor: color, borderWidth: width, borderDash: dash, pointRadius: 0, fill: false, order,
});
const hiddenUnit = { type: 'linear', min: 0, max: 1, display: false };

const C_BACK = 'rgba(34,139,34,0.6)';
const C_BENCH = 'rgba(128,128,128,0.6)';
const C_ORANGE = 'rgba(255,69,0,0.7)';
const C_GREY7 = 'rgba(128,128,128,0.7)';
const C_STEEL = 'rgb(70,130,180)';
const SPAN_COLORS = ['rgba(239,209,207,0.4)', 'rgba(104,62,107,0.4)', 'rgba(166,99,142,0.4)', 'rgba(212,147,162,0.4)', 'rgba(49,29,57,0.4)'];
const BOX_COLORS = ['#5875a4', '#5f9e6e', '#c1b37f'];
const BOX_LINE = '#505050';

const cumLegend = () => boxLegend([
  { label: 'Benchmark (long all)', color: C_BENCH, width: 1.8 },
  { label: 'Backtest', color: C_BACK, width: 2.7 },
], 'tl');

// ======================= CHART CONFIGS =======================
const makeCum = (g: Geom) => ({
  type: 'line',
  data: { datasets: [
    hline(1, '#000000', 1.8, [6.7, 2.9], 0),
    line(cumDates, backtestCum, C_BACK, 2.7, 1),
    line(cumDates, benchmarkCum, C_BENCH, 1.8, 2),
  ] },
  options: baseOptions(g, 'Cumulative returns', {
    x: xTime(g),
    y: ySc(g, { min: 0.9902, max: 1.0344, ticks: cumTicks, labels: cumTickLabels, title: 'Cumulative returns', titleX: YT.cum }),
    padR: padR(g),
  }),
  plugins: [bgPlugin, cumLegend()],
});

const makeVolMatched = (g: Geom) => ({
  type: 'line',
  data: { datasets: [
    hline(1, '#000000', 1.8, [6.7, 2.9], 0),
    line(cumDates, volMatchedCum, C_BACK, 2.7, 1),
    line(cumDates, benchmarkCum, C_BENCH, 1.8, 2),
  ] },
  options: baseOptions(g, 'Cumulative returns volatility matched to benchmark', {
    x: xTime(g),
    y: ySc(g, { min: 0.99075, max: 1.0241, ticks: volMatchTicks, labels: volMatchTickLabels, title: 'Cumulative returns', titleX: YT.volm }),
    padR: padR(g),
  }),
  plugins: [bgPlugin],
});

const makeLog = (g: Geom) => ({
  type: 'line',
  data: { datasets: [
    hline(1, '#000000', 1.8, [6.7, 2.9], 0),
    line(cumDates, backtestCum, C_BACK, 2.7, 1),
    line(cumDates, benchmarkCum, C_BENCH, 1.8, 2),
  ] },
  options: baseOptions(g, 'Cumulative returns on logarithmic scale', {
    x: xTime(g),
    y: ySc(g, { type: 'logarithmic', min: 0.9902, max: 1.035, ticks: cumTicks, labels: logTickLabels }),
    padR: padR(g),
  }),
  plugins: [bgPlugin, cumLegend()],
});

const makeReturns = (g: Geom) => ({
  type: 'line',
  data: { datasets: [line(returnDates, dailyReturns, 'rgb(0,128,0)', 1.3, 0, { borderJoinStyle: 'miter' })] },
  options: baseOptions(g, 'Returns', {
    x: xTime(g),
    y: ySc(g, { min: -0.002393, max: 0.001935, ticks: returnTicks, labels: returnTickLabels, title: 'Returns', titleX: YT.ret }),
    padR: padR(g),
  }),
  plugins: [bgPlugin],
});

const makeBeta = (g: Geom) => ({
  type: 'line',
  data: { datasets: [
    hline(0, '#000000', 2.1, [], 0),
    line(betaDates, beta6mo, 'rgba(70,130,180,0.6)', 2.7, 1),
  ] },
  options: baseOptions(g, 'Rolling portfolio beta to Benchmark (long all)', {
    x: xTime(g),
    y: ySc(g, { min: -1, max: 1, ticks: betaTicks, labels: betaTickLabels, title: 'Beta', titleX: YT.beta }),
    padR: padR(g),
  }),
  plugins: [bgPlugin, boxLegend([
    { label: '6-mo', color: 'rgba(70,130,180,0.6)', width: 2.7 },
    { label: '12-mo', color: 'rgba(128,128,128,0.4)', width: 2.7 },
  ], 'tr')],
});

const makeVol = (g: Geom) => ({
  type: 'line',
  data: { datasets: [
    hline(0, '#000000', 1.8, [], 0),
    hline(averageVol, C_STEEL, 2.7, [10, 4.3], 1),
    line(rollDates, benchmarkVol, C_GREY7, 2.7, 2),
    line(rollDates, rollingVol, C_ORANGE, 2.7, 3),
  ] },
  options: baseOptions(g, 'Rolling volatility (6-month)', {
    x: xTime(g),
    y: ySc(g, { min: -0.000415, max: 0.009117, ticks: volTicks, labels: volTickLabels, title: 'Volatility', titleX: YT.vol }),
    padR: padR(g),
  }),
  plugins: [bgPlugin, boxLegend([
    { label: 'Volatility', color: C_ORANGE, width: 2.7 },
    { label: 'Benchmark volatility', color: C_GREY7, width: 2.7 },
    { label: 'Average volatility', color: C_STEEL, width: 2.7, dash: [10, 4.3] },
  ], 'bl')],
});

const makeSharpe = (g: Geom) => ({
  type: 'line',
  data: { datasets: [
    hline(0, '#000000', 2.6, [], 0),
    hline(averageSharpe, C_STEEL, 2.7, [10, 4.3], 1),
    line(rollDates, rollingSharpe, C_ORANGE, 2.7, 2),
  ] },
  options: baseOptions(g, 'Rolling Sharpe ratio (6-month)', {
    x: xTime(g),
    y: ySc(g, { min: -2.315, max: 5.287, ticks: sharpeTicks, labels: sharpeTickLabels, title: 'Sharpe ratio', titleX: YT.sharpe }),
    padR: padR(g),
  }),
  plugins: [bgPlugin, boxLegend([
    { label: 'Sharpe', color: C_ORANGE, width: 2.7 },
    { label: 'Average', color: C_STEEL, width: 2.7, dash: [10, 4.3] },
  ], 'tl')],
});

const DD_YMAX = 1.03444;
const makeDrawdown = (g: Geom) => ({
  type: 'line',
  data: { datasets: [
    line(cumDates, backtestCum, '#1f77b4', 1.4, 0),
    ...drawdownStarts.map((s, i) =>
      line([s, drawdownEnds[i]], [DD_YMAX, DD_YMAX], 'rgba(0,0,0,0)', 0, 10 + i, { fill: 'start', backgroundColor: SPAN_COLORS[i] })),
  ] },
  options: baseOptions(g, 'Top 5 drawdown periods', {
    x: xTime(g),
    y: ySc(g, { min: 0.99237, max: DD_YMAX, ticks: cumTicks, labels: cumTickLabels, title: 'Cumulative returns', titleX: YT.dd }),
    padR: padR(g),
  }),
  plugins: [bgPlugin, boxLegend([{ label: 'Portfolio', color: '#1f77b4', width: 1.6 }], 'tl')],
});

const makeUnderwater = (g: Geom) => ({
  type: 'line',
  data: { datasets: [
    line(cumDates, underwater, 'rgba(255,127,80,0.7)', 1, 0, { fill: 'origin', backgroundColor: 'rgba(255,127,80,0.7)' }),
  ] },
  options: baseOptions(g, 'Underwater plot', {
    x: xTime(g),
    y: ySc(g, { min: -0.01145, max: 0, ticks: uwTicks, labels: uwTickLabels, title: 'Drawdown', titleX: YT.uw }),
    padR: padR(g),
  }),
  plugins: [bgPlugin],
});

const makeHeat = (g: Geom) => ({
  type: 'bar',
  data: {
    labels: heatMonths,
    datasets: heatRows.map((row, i) => ({
      type: 'bar',
      data: row.map(() => [i, i + 1]),
      backgroundColor: row.map((v) => rgb(heatColor(v))),
      borderWidth: 0, barPercentage: 1, categoryPercentage: 1, grouped: false,
    })),
  },
  options: baseOptions(g, 'Monthly returns (%)', {
    x: {
      type: 'category', position: 'bottom', offset: true,
      afterFit: (s: any) => { s.height = g.xAxisH; },
      ticks: {
        autoSkip: false, maxRotation: 0, minRotation: 0, color: TEXT, font: { family: FONT, size: TICK }, padding: 6.3,
        callback: (_v: any, i: number) => (i % 2 === 0 ? heatMonths[i] : ''),
      },
      grid: { display: false, drawTicks: false }, border: { display: false },
      title: { display: true, text: 'Month', color: TEXT, font: { family: FONT, size: LABEL }, padding: { top: 0, bottom: 4.2 } },
    },
    y: {
      type: 'linear', position: 'left', min: 0, max: heatYears.length, reverse: true,
      afterFit: (s: any) => { s.width = g.yAxisW; },
      ticks: { display: false }, grid: { display: false, drawTicks: false }, border: { display: false },
      title: { display: true, text: 'Year', color: TEXT, font: { family: FONT, size: LABEL }, padding: { top: YT.heat - g.L - 10.8, bottom: 0 } },
    },
    padR: padR(g),
  }),
  plugins: [heatAnnot, heatYearLabels],
});

const ANNUAL_BAR_FRACTION = 0.47;
const makeAnnual = (g: Geom) => ({
  type: 'bar',
  data: {
    labels: annualYears,
    datasets: [
      vline(0, '#000000', 2.7, [], 0),
      {
        type: 'bar', indexAxis: 'y', xAxisID: 'x', yAxisID: 'y', data: annualReturns,
        backgroundColor: 'rgba(31,119,180,0.7)', borderWidth: 0, grouped: false,
        barThickness: (g.plotH / annualYears.length) * ANNUAL_BAR_FRACTION, order: 1,
      },
      vline(annualMean, 'rgba(70,130,180,0.7)', 3.6, [13.3, 5.8], 2),
    ],
  },
  options: baseOptions(g, 'Annual returns', {
    x: xLin(g, { min: -0.006846, max: 0.02054, ticks: annualTicks, labels: annualTickLabels, title: 'Returns' }),
    y: {
      type: 'category', position: 'left', offset: true,
      afterFit: (s: any) => { s.width = g.yAxisW; },
      ticks: { autoSkip: false, color: TEXT, font: { family: FONT, size: TICK }, padding: 11.6 },
      grid: { color: GRID, lineWidth: 1.1, drawTicks: false, offset: false }, border: { display: false },
      title: { display: true, text: 'Year', color: TEXT, font: { family: FONT, size: LABEL }, padding: { top: YT.annual - g.L - 10.8, bottom: 0 } },
    },
    yl: hiddenUnit,
    padR: padR(g),
  }, { indexAxis: 'y' }),
  plugins: [bgPlugin, boxLegend([{ label: 'Mean', color: 'rgba(70,130,180,0.7)', width: 3.6, dash: [13.3, 5.8] }], 'tr')],
});

const makeHist = (g: Geom) => ({
  type: 'bar',
  data: {
    datasets: [
      vline(0, 'rgba(0,0,0,0.75)', 2.7, [], 0),
      vline(monthlyMean, 'rgb(255,215,0)', 3.6, [13.3, 5.8], 1),
      {
        type: 'bar', xAxisID: 'x', yAxisID: 'y', data: histBinCenters.map((c, i) => ({ x: c, y: histCounts[i] })),
        backgroundColor: 'rgba(255,69,0,0.8)', borderColor: '#ffffff',
        borderWidth: { left: 0.6, right: 0.6, top: 0, bottom: 0 }, borderSkipped: false,
        barPercentage: 1, categoryPercentage: 1, grouped: false, order: 2,
      },
    ],
  },
  options: baseOptions(g, 'Distribution of monthly returns', {
    x: xLin(g, { min: -0.00458, max: 0.00627, ticks: histTicks, labels: histTickLabels, title: 'Returns' }),
    y: ySc(g, { min: 0, max: 9.43, ticks: countTicks, labels: countTickLabels, title: 'Number of months', titleX: YT.hist, pad: 12.7 }),
    yl: hiddenUnit,
    padR: padR(g),
  }),
  plugins: [bgPlugin, boxLegend([{ label: 'Mean', color: 'rgb(255,215,0)', width: 3.6, dash: [13.3, 5.8] }], 'tl')],
});

function thinDiamond(color: string) {
  const c = document.createElement('canvas');
  c.width = 6; c.height = 9;
  const x = c.getContext('2d')!;
  x.fillStyle = color;
  x.beginPath();
  x.moveTo(3, 0.3); x.lineTo(5.6, 4.5); x.lineTo(3, 8.7); x.lineTo(0.4, 4.5);
  x.closePath(); x.fill();
  return c;
}

const BOX_HALF = 0.4;
const CAP_HALF = 0.2;
const makeBox = (g: Geom) => {
  const medianPts: any[] = [];
  const whiskerPts: any[] = [];
  quantileLabels.forEach((_, i) => {
    medianPts.push({ x: i - BOX_HALF, y: boxMedian[i] }, { x: i + BOX_HALF, y: boxMedian[i] }, { x: i + 0.5, y: null });
    whiskerPts.push(
      { x: i, y: boxQ3[i] }, { x: i, y: whiskerHigh[i] }, { x: i, y: null },
      { x: i - CAP_HALF, y: whiskerHigh[i] }, { x: i + CAP_HALF, y: whiskerHigh[i] }, { x: i, y: null },
      { x: i, y: boxQ1[i] }, { x: i, y: whiskerLow[i] }, { x: i, y: null },
      { x: i - CAP_HALF, y: whiskerLow[i] }, { x: i + CAP_HALF, y: whiskerLow[i] }, { x: i, y: null },
    );
  });
  const outlierPts = [
    ...dailyOutliers.map((v) => ({ x: 0, y: v })),
    ...weeklyOutliers.map((v) => ({ x: 1, y: v })),
    ...monthlyOutliers.map((v) => ({ x: 2, y: v })),
  ];
  const diamond = thinDiamond('rgba(60,60,60,0.9)');
  return {
    type: 'bar',
    data: {
      datasets: [
        { type: 'line', data: medianPts, borderColor: BOX_LINE, borderWidth: 2, pointRadius: 0, spanGaps: false, fill: false, order: 0 },
        { type: 'line', data: outlierPts, showLine: false, pointStyle: diamond, pointRadius: 4, order: 1 },
        { type: 'line', data: whiskerPts, borderColor: BOX_LINE, borderWidth: 2, pointRadius: 0, spanGaps: false, fill: false, order: 2 },
        {
          type: 'bar', xAxisID: 'x', yAxisID: 'y', data: quantileLabels.map((_, i) => ({ x: i, y: [boxQ1[i], boxQ3[i]] })),
          backgroundColor: BOX_COLORS, borderColor: BOX_LINE, borderWidth: 2, borderSkipped: false,
          barPercentage: 0.8, categoryPercentage: 1, grouped: false, order: 3,
        },
      ],
    },
    options: baseOptions(g, 'Return quantiles', {
      x: xLin(g, { min: -0.5, max: 2.5, ticks: quantIndexTicks, labels: quantileLabels, pad: 5.9, grid: false }),
      y: ySc(g, { min: -0.00462, max: 0.00617, ticks: quantTicks, labels: quantTickLabels }),
      padR: padR(g),
    }),
    plugins: [bgPlugin],
  };
};

// ======================= COMPONENTS =======================
function ChartBox({ frame, make }: { frame: Frame; make: (g: Geom) => any }) {
  const ref = useRef<HTMLCanvasElement | null>(null);
  const g = geom(frame);
  useEffect(() => {
    if (!ref.current) return;
    const chart = new Chart(ref.current, make(g) as any);
    return () => chart.destroy();
  }, []);
  return (
    <div style={{ position: 'absolute', left: frame.L, top: g.T, width: frame.W, height: g.H }}>
      <canvas ref={ref} />
    </div>
  );
}

export default function App() {
  return (
    <div style={{ position: 'absolute', left: 0, top: 0, width: 935, height: 3958, overflow: 'hidden', background: '#ffffff' }}>
      <ChartBox frame={FR.cum} make={makeCum} />
      <ChartBox frame={FR.volm} make={makeVolMatched} />
      <ChartBox frame={FR.log} make={makeLog} />
      <ChartBox frame={FR.ret} make={makeReturns} />
      <ChartBox frame={FR.beta} make={makeBeta} />
      <ChartBox frame={FR.vol} make={makeVol} />
      <ChartBox frame={FR.sharpe} make={makeSharpe} />
      <ChartBox frame={FR.dd} make={makeDrawdown} />
      <ChartBox frame={FR.uw} make={makeUnderwater} />
      <ChartBox frame={FR.heat} make={makeHeat} />
      <ChartBox frame={FR.annual} make={makeAnnual} />
      <ChartBox frame={FR.hist} make={makeHist} />
      <ChartBox frame={FR.box} make={makeBox} />
    </div>
  );
}
